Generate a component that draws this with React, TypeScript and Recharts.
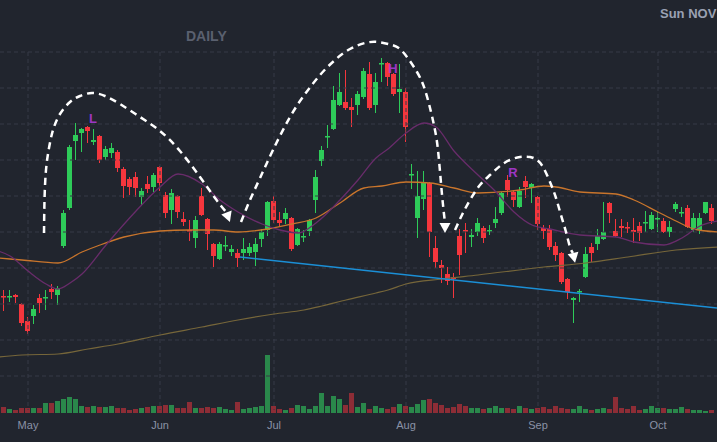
import React from 'react';
import { ComposedChart, Bar, Line, XAxis, YAxis, ReferenceLine, ReferenceDot, Cell } from 'recharts';

const W = 717;
const H = 442;

// ---- candles: trading days -1 .. 118 (index k in arrays = day k-1) ----
const opens = [14.0,
  11.6, 11.5, 11.7, 10.8, 9.1, 9.6, 11.4, 11.4, 12.3, 11.7,
  16.6, 20.4, 27.1, 27.9, 28.5, 27.0, 27.6, 25.5, 25.9, 26.0,
  24.3, 23.3, 23.5, 21.5, 22.8, 22.5, 24.5, 21.7, 20.2, 21.6,
  19.3, 18.2, 17.4, 21.6, 19.3, 16.8, 15.3, 16.6, 16.0, 15.9,
  15.9, 15.9, 16.0, 17.3, 18.2, 21.1, 19.2, 19.3, 19.4, 16.7,
  17.5, 18.1, 21.2, 25.1, 27.5, 28.3, 30.7, 31.0, 30.5, 30.7,
  31.5, 33.8, 30.7, 34.8, 34.9, 33.8, 32.0, 32.0, 23.7, 19.4,
  21.3, 22.9, 16.4, 14.7, 13.8, 13.5, 17.6, 18.2, 17.5, 18.0,
  18.4, 18.1, 18.9, 19.9, 23.2, 22.0, 20.5, 23.1, 22.4, 21.5,
  18.4, 18.3, 16.6, 15.9, 13.3, 11.2, 12.05, 13.5, 16.5, 16.8,
  17.3, 20.9, 18.1, 18.6, 18.5, 18.2, 18.6, 18.95, 18.3, 19.35,
  19.1, 18.0, 20.3, 19.95, 20.4, 18.2, 18.2, 19.9, 20.4];
const closes = [11.0,
  11.5, 11.6, 11.5, 8.9, 8.1, 10.3, 10.9, 11.5, 12.0, 12.4,
  19.9, 26.5, 27.7, 28.3, 28.1, 27.2, 25.2, 26.3, 26.4, 24.4,
  22.6, 22.5, 22.4, 22.1, 22.3, 23.7, 22.9, 19.9, 21.9, 20.0,
  19.0, 18.1, 19.2, 19.7, 17.8, 15.6, 16.8, 16.7, 16.3, 15.4,
  16.3, 16.5, 16.8, 18.0, 21.0, 19.2, 18.9, 19.9, 16.3, 18.3,
  17.6, 19.2, 23.5, 26.2, 27.6, 31.2, 32.0, 30.4, 30.2, 31.8,
  34.1, 30.4, 33.0, 34.9, 33.5, 31.8, 32.3, 28.5, 23.8, 21.6,
  22.9, 18.0, 15.0, 14.4, 13.1, 13.3, 15.7, 18.1, 17.7, 18.9,
  17.4, 18.2, 19.3, 21.9, 22.2, 21.2, 22.1, 22.5, 22.8, 18.8,
  18.1, 16.5, 15.7, 13.0, 12.0, 11.4, 12.1, 15.8, 15.9, 17.6,
  18.0, 19.9, 17.6, 18.4, 18.4, 18.0, 17.9, 19.0, 19.7, 19.4,
  18.0, 18.5, 20.8, 20.0, 18.5, 19.4, 19.4, 21.0, 19.1];
const highs = [14.2,
  12.2, 12.2, 11.8, 10.9, 9.5, 10.7, 11.8, 12.2, 12.8, 12.6,
  20.2, 26.7, 28.9, 28.4, 28.6, 28.3, 27.7, 26.6, 26.9, 26.2,
  24.5, 23.5, 24.0, 22.4, 23.6, 23.9, 24.6, 22.0, 22.3, 21.7,
  20.0, 19.2, 19.6, 22.4, 19.4, 16.9, 17.0, 17.6, 16.7, 16.3,
  17.4, 16.9, 17.4, 18.3, 21.1, 21.6, 20.0, 20.4, 19.5, 18.4,
  18.2, 19.3, 24.2, 26.6, 28.7, 32.6, 33.9, 34.2, 31.4, 32.1,
  34.4, 35.0, 33.9, 35.4, 35.0, 33.9, 34.8, 32.4, 24.8, 24.1,
  24.1, 23.0, 17.6, 15.2, 14.5, 13.9, 18.3, 18.9, 18.3, 19.4,
  18.6, 18.7, 20.5, 22.0, 23.7, 22.2, 22.5, 23.6, 22.9, 21.6,
  18.7, 18.7, 17.0, 16.0, 13.4, 11.5, 12.3, 16.5, 16.9, 18.3,
  21.0, 21.0, 19.3, 19.3, 19.0, 19.4, 19.0, 20.1, 20.0, 20.0,
  19.4, 19.1, 21.0, 20.5, 20.7, 19.9, 19.9, 21.0, 20.8];
const lows = [10.7,
  10.1, 11.0, 10.9, 8.6, 7.8, 8.8, 9.9, 10.2, 11.3, 10.7,
  16.4, 20.2, 25.2, 26.0, 26.9, 26.7, 24.9, 25.2, 25.4, 24.0,
  21.4, 21.7, 21.5, 20.7, 21.9, 22.0, 22.1, 19.4, 18.8, 19.4,
  18.6, 17.1, 16.4, 19.6, 16.2, 14.5, 15.2, 16.1, 15.6, 14.5,
  15.2, 15.6, 14.6, 16.5, 17.6, 18.9, 18.5, 18.8, 16.1, 16.6,
  17.0, 17.6, 19.9, 24.6, 26.4, 28.2, 30.6, 30.2, 28.5, 29.7,
  31.3, 30.2, 29.9, 33.0, 32.6, 31.6, 29.9, 27.0, 22.3, 17.4,
  20.2, 15.5, 14.4, 12.9, 12.7, 11.4, 13.7, 15.9, 16.5, 17.6,
  16.9, 17.7, 18.4, 19.7, 21.5, 20.5, 20.4, 21.4, 20.9, 18.2,
  17.3, 16.2, 15.1, 12.8, 11.3, 8.9, 11.0, 13.4, 15.0, 16.2,
  17.2, 18.9, 17.5, 17.5, 17.9, 16.9, 17.1, 18.0, 18.2, 18.0,
  17.9, 17.5, 20.0, 19.5, 18.4, 18.0, 17.8, 19.8, 18.8];
const volumes = [6,
  6, 4, 3, 5, 5, 5, 5, 10, 10, 12,
  14, 16, 14, 7, 6, 7, 6, 6, 7, 5,
  5, 3, 4, 5, 6, 7, 7, 8, 8, 5,
  5, 11, 5, 5, 6, 5, 6, 4, 3, 11,
  4, 5, 6, 7, 58, 7, 4, 3, 5, 8,
  7, 4, 7, 20, 7, 17, 14, 8, 20, 6,
  10, 4, 7, 5, 4, 6, 9, 7, 6, 9,
  13, 14, 10, 8, 5, 6, 9, 7, 5, 5,
  4, 5, 7, 5, 5, 4, 7, 5, 4, 5,
  6, 4, 7, 5, 4, 4, 7, 4, 3, 4,
  5, 4, 16, 5, 4, 7, 3, 4, 7, 5,
  5, 4, 4, 6, 4, 3, 3, 2, 3];

// ---- axis labels ----
const monthTicks = [4, 26, 45, 67, 89, 109];
const monthLabels = ['May', 'Jun', 'Jul', 'Aug', 'Sep', 'Oct'];
const gridLevels = [36, 32.4, 28.8, 25.2, 21.6, 18, 14.4, 10.8, 7.2, 3.6];

// ---- moving averages (day, price) ----
const maShort: [number, number][] = [
  [-1, 16.1], [1, 15.6], [4, 14.1], [7, 12.8], [9, 12.3], [11, 12.9], [13, 13.8], [17, 16.7],
  [22, 20.1], [26, 22.5], [29, 23.8], [33, 22.8], [36, 21.2], [39, 20.0], [43, 18.8], [46, 18.2],
  [49, 17.9], [52, 18.9], [56, 21.2], [59, 23.2], [62, 25.4], [64, 26.3], [67, 27.9], [70, 28.9],
  [72, 28.5], [75, 26.1], [79, 23.7], [82, 22.0], [85, 20.0], [88, 18.7], [91, 18.3], [96, 17.7],
  [102, 17.5], [105, 17.0], [110, 16.7], [113, 17.4], [116, 18.6], [119, 19.1]];
const maMid: [number, number][] = [
  [-1, 15.4], [3, 15.2], [9, 14.9], [13, 16.0], [16, 16.7], [20, 17.5], [26, 18.1], [31, 18.2],
  [35, 18.2], [39, 18.0], [44, 18.3], [48, 18.8], [52, 19.4], [56, 20.9], [60, 22.4], [63, 22.6],
  [67, 23.0], [71, 22.9], [75, 22.4], [79, 21.9], [86, 22.2], [90, 22.6], [92, 22.5], [96, 22.0],
  [102, 21.8], [105, 21.2], [109, 20.0], [112, 19.1], [115, 18.3], [119, 18.0]];
const maLong: [number, number][] = [
  [-1, 5.5], [3, 5.7], [9, 5.8], [14, 6.3], [19, 6.8], [26, 7.7], [33, 8.5], [39, 9.2],
  [45, 9.8], [50, 10.2], [53, 10.6], [57, 11.2], [62, 11.9], [64, 12.2], [67, 12.8], [73, 13.3],
  [79, 13.7], [90, 14.5], [97, 14.9], [104, 15.5], [112, 16.2], [119, 16.5]];
const trendLine: [number, number][] = [[39.3, 15.5], [119.5, 10.35]];

// ---- hand-drawn arcs (day, price) ----
const arcLeft: [number, number][] = [
  [6.67, 17.9], [6.75, 21.2], [7.0, 24.2], [7.5, 26.4], [8.17, 28.2], [9.33, 29.8], [11.0, 31.0],
  [12.67, 31.6], [14.67, 31.9], [16.83, 31.6], [19.33, 30.8], [22.67, 29.5], [26.0, 28.1],
  [29.33, 26.1], [32.67, 23.5], [35.17, 21.4], [37.08, 19.95]];
const arcHead: [number, number][] = [
  [39.5, 19.0], [41.0, 21.2], [42.67, 23.4], [44.83, 26.2], [47.67, 29.5], [50.17, 31.8],
  [52.67, 33.7], [55.17, 35.2], [57.67, 36.3], [60.17, 36.9], [62.33, 37.0], [64.67, 36.7],
  [66.5, 36.0], [68.83, 34.0], [70.17, 32.2], [71.17, 30.0], [71.83, 28.2], [72.33, 26.2],
  [72.83, 22.9], [73.17, 20.7], [73.5, 18.9]];
const arcRight: [number, number][] = [
  [75.17, 18.2], [76.33, 19.7], [77.67, 21.2], [79.33, 22.7], [81.0, 23.7], [82.67, 24.6],
  [84.33, 25.2], [86.0, 25.5], [87.67, 25.5], [88.83, 25.2], [89.83, 24.5], [91.0, 23.0],
  [92.0, 21.4], [92.83, 19.7], [93.67, 18.0], [94.33, 16.5], [94.83, 15.9]];
const arcs = [
  { pts: arcLeft, angle: 70 },
  { pts: arcHead, angle: 90 },
  { pts: arcRight, angle: 78 },
];

const marks = [
  { label: 'L', i: 14.83, p: 29.4 },
  { label: 'H', i: 64.83, p: 34.4 },
  { label: 'R', i: 84.83, p: 24.0 },
];

const data = opens.map((o, k) => ({
  i: k - 1,
  o,
  c: closes[k],
  h: highs[k],
  l: lows[k],
  v: volumes[k],
}));

const toRows = (pts: [number, number][]) => pts.map(([i, p]) => ({ i, p }));

const BG = '#21252e';
const GREEN = '#2ecb59';
const RED = '#f5363d';
const VGREEN = '#2a884b';
const VRED = '#8d2d36';
const GRID = '#363b47';
const X_DOMAIN: [number, number] = [-2 / 3, 118 + 5 / 6];

const Candle = (props: any) => {
  const { x, y, width, height, payload } = props;
  if (!payload || x == null || y == null || height == null) return <g />;
  const { o, c, h, l } = payload;
  const top = Math.min(y, y + height);
  const span = Math.abs(height);
  const yOf = (v: number) => top + ((h - v) / (h - l)) * span;
  const color = c >= o ? GREEN : RED;
  const cx = Math.floor(x + width / 2) + 0.5;
  const bTop = yOf(Math.max(o, c));
  const bBot = yOf(Math.min(o, c));
  const bh = Math.max(bBot - bTop, 1.5);
  return (
    <g>
      <line x1={cx} x2={cx} y1={top} y2={top + span} stroke={color} strokeWidth={1} />
      <rect x={cx - 2.5} y={bTop} width={5} height={bh} fill={color} />
    </g>
  );
};

const arrowDot = (len: number, angle: number) => (props: any) => {
  const { cx, cy, index } = props;
  if (index !== len - 1 || cx == null || cy == null) return <g key={`d${index}`} />;
  const rad = (angle * Math.PI) / 180;
  const ux = Math.cos(rad);
  const uy = Math.sin(rad);
  const tx = cx + ux * 10;
  const ty = cy + uy * 10;
  const px = -uy * 5.5;
  const py = ux * 5.5;
  return (
    <polygon
      key={`d${index}`}
      points={`${tx},${ty} ${cx + px},${cy + py} ${cx - px},${cy - py}`}
      fill="#ffffff"
    />
  );
};

const overlayLines = [
  { pts: maLong, color: '#76663a', width: 1.2, type: 'monotone' },
  { pts: maMid, color: '#c9752c', width: 1.3, type: 'monotone' },
  { pts: maShort, color: '#682c6a', width: 1.3, type: 'monotone' },
  { pts: trendLine, color: '#1b8fd6', width: 1.5, type: 'linear' },
];

export default function App() {
  return (
    <div
      style={{
        position: 'fixed',
        left: 0,
        top: 0,
        width: W,
        height: H,
        background: BG,
        overflow: 'hidden',
      }}
    >
      <ComposedChart width={W} height={H} data={data} margin={{ top: 0, right: 0, bottom: 0, left: 0 }}>
        <XAxis
          xAxisId="c"
          type="number"
          dataKey="i"
          domain={X_DOMAIN}
          allowDataOverflow
          ticks={monthTicks}
          interval={0}
          tickFormatter={(v: number) => monthLabels[monthTicks.indexOf(v)] ?? ''}
          axisLine={false}
          tickLine={false}
          height={29}
          tick={{ fill: '#8a92a6', fontSize: 11, fontFamily: 'Liberation Sans, Arial, sans-serif' }}
        />
        <XAxis xAxisId="v" type="number" dataKey="i" domain={X_DOMAIN} allowDataOverflow hide />
        <XAxis xAxisId="o" type="number" dataKey="i" domain={X_DOMAIN} allowDataOverflow hide />
        <YAxis yAxisId="p" type="number" domain={[-0.1, 41.2]} allowDataOverflow hide />
        <YAxis yAxisId="v" type="number" domain={[0, 413]} allowDataOverflow hide />

        {gridLevels.map((lv) => (
          <ReferenceLine
            key={`h${lv}`}
            xAxisId="o"
            yAxisId="p"
            y={lv}
            stroke={GRID}
            strokeDasharray="4 3"
          />
        ))}
        {monthTicks.map((t) => (
          <ReferenceLine
            key={`v${t}`}
            xAxisId="o"
            yAxisId="p"
            segment={[{ x: t, y: 36 }, { x: t, y: 0.2 }]}
            stroke={GRID}
            strokeDasharray="4 3"
          />
        ))}

        {overlayLines.map((ln, k) => (
          <Line
            key={`ov${k}`}
            xAxisId="o"
            yAxisId="p"
            data={toRows(ln.pts)}
            dataKey="p"
            type={ln.type as any}
            stroke={ln.color}
            strokeWidth={ln.width}
            dot={false}
            activeDot={false}
            isAnimationActive={false}
          />
        ))}

        <Bar xAxisId="v" yAxisId="v" dataKey="v" barSize={5} isAnimationActive={false}>
          {data.map((d) => (
            <Cell key={`vc${d.i}`} fill={d.c >= d.o ? VGREEN : VRED} />
          ))}
        </Bar>
        <Bar
          xAxisId="c"
          yAxisId="p"
          dataKey={(d: any) => [d.l, d.h]}
          barSize={5}
          shape={Candle}
          isAnimationActive={false}
        />

        {arcs.map((a, k) => (
          <Line
            key={`arc${k}`}
            xAxisId="o"
            yAxisId="p"
            data={toRows(a.pts)}
            dataKey="p"
            type="natural"
            stroke="#ffffff"
            strokeWidth={2.5}
            strokeDasharray="7 5"
            dot={arrowDot(a.pts.length, a.angle)}
            activeDot={false}
            isAnimationActive={false}
          />
        ))}

        {marks.map((m) => (
          <ReferenceDot
            key={m.label}
            xAxisId="o"
            yAxisId="p"
            x={m.i}
            y={m.p}
            r={0}
            fill="none"
            stroke="none"
            label={{
              value: m.label,
              position: 'center',
              fill: '#9d36c4',
              fontSize: 13,
              fontWeight: 700,
              fontFamily: 'Liberation Sans, Arial, sans-serif',
            }}
          />
        ))}
      </ComposedChart>
      <div
        style={{
          position: 'absolute',
          left: 186,
          top: 29,
          fontFamily: 'Liberation Sans, Arial, sans-serif',
          fontWeight: 700,
          fontSize: 14,
          lineHeight: '14px',
          color: '#5a606f',
          whiteSpace: 'nowrap',
        }}
      >
        DAILY
      </div>
      <div
        style={{
          position: 'absolute',
          left: 660,
          top: 7,
          fontFamily: 'Liberation Sans, Arial, sans-serif',
          fontWeight: 700,
          fontSize: 13,
          lineHeight: '13px',
          color: '#9aa1b3',
          whiteSpace: 'nowrap',
        }}
      >
        Sun NOV
      </div>
    </div>
  );
}
